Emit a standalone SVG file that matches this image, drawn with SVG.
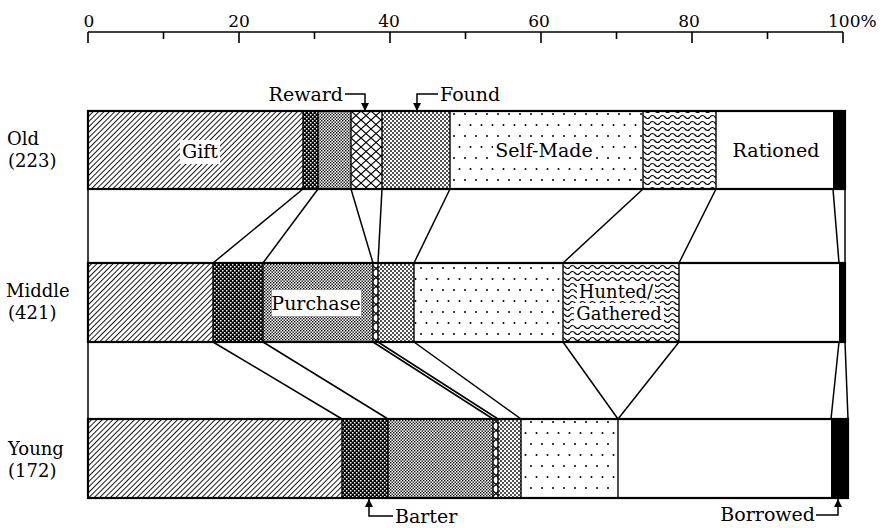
<svg xmlns="http://www.w3.org/2000/svg" width="886" height="528" viewBox="0 0 886 528" font-family="DejaVu Serif, serif">
<style>
.ax{font-size:17px}
.row{font-size:18px}
.lbl{font-size:19px}
.bar{stroke:#000;stroke-width:2.2;fill:none}
.seg{stroke:#000;stroke-width:1.4}
.conn line{stroke:#000;stroke-width:1.5}
.call{fill:none;stroke:#000;stroke-width:1.5}
.tick{stroke:#000;stroke-width:1.6}
</style>
<defs>
<pattern id="pGift" width="3.8" height="3.8" patternUnits="userSpaceOnUse" patternTransform="rotate(45)">
<rect width="3.8" height="3.8" fill="#fff"/><line x1="0.5" y1="0" x2="0.5" y2="3.8" stroke="#000" stroke-width="0.9"/>
</pattern>
<pattern id="pBarter" width="4" height="4" patternUnits="userSpaceOnUse">
<rect width="4" height="4" fill="#000"/><rect x="0" y="0" width="1.5" height="1.5" fill="#fff"/><rect x="2" y="2" width="1.5" height="1.5" fill="#fff"/>
</pattern>
<pattern id="pPurchase" width="3" height="3" patternUnits="userSpaceOnUse">
<rect width="3" height="3" fill="#fff"/><rect x="0" y="0" width="1.4" height="1.4" fill="#000"/><rect x="1.5" y="1.5" width="1.4" height="1.4" fill="#000"/>
</pattern>
<pattern id="pReward" width="10" height="18" patternUnits="userSpaceOnUse" x="351" y="111">
<rect width="10" height="18" fill="#fff"/><path d="M0,0 L10,9 L0,18 M10,0 L0,9 L10,18" fill="none" stroke="#000" stroke-width="1.1"/>
</pattern>
<pattern id="pFound" width="4" height="4" patternUnits="userSpaceOnUse">
<rect width="4" height="4" fill="#fff"/><circle cx="1" cy="1" r="0.9" fill="#000"/><circle cx="3" cy="3" r="0.9" fill="#000"/>
</pattern>
<pattern id="pSelf" width="11" height="22" patternUnits="userSpaceOnUse">
<rect width="11" height="22" fill="#fff"/><circle cx="3" cy="4" r="1" fill="#000"/><circle cx="8.5" cy="15" r="1" fill="#000"/>
</pattern>
<pattern id="pWave" width="10" height="6" patternUnits="userSpaceOnUse">
<rect width="10" height="6" fill="#fff"/><path d="M0,3 Q2.5,0 5,3 T10,3" fill="none" stroke="#000" stroke-width="1.2"/>
</pattern>
<marker id="arr" viewBox="0 0 10 10" refX="10" refY="5" markerWidth="8" markerHeight="8" markerUnits="userSpaceOnUse" orient="auto">
<path d="M0,0 L10,5 L0,10 Z" fill="#000"/>
</marker>
</defs>
<rect width="886" height="528" fill="#fff"/>

<g id="axis">
<line class="tick" x1="88" y1="32" x2="843" y2="32"/>
<line class="tick" x1="88" y1="32" x2="88" y2="43"/>
<line class="tick" x1="163.5" y1="32" x2="163.5" y2="39"/>
<line class="tick" x1="239" y1="32" x2="239" y2="43"/>
<line class="tick" x1="314.5" y1="32" x2="314.5" y2="39"/>
<line class="tick" x1="390" y1="32" x2="390" y2="43"/>
<line class="tick" x1="465.5" y1="32" x2="465.5" y2="39"/>
<line class="tick" x1="541" y1="32" x2="541" y2="43"/>
<line class="tick" x1="616.5" y1="32" x2="616.5" y2="39"/>
<line class="tick" x1="692" y1="32" x2="692" y2="43"/>
<line class="tick" x1="767.5" y1="32" x2="767.5" y2="39"/>
<line class="tick" x1="843" y1="32" x2="843" y2="43"/>
<g class="ax">
<text x="89" y="27" text-anchor="middle">0</text>
<text x="239" y="27" text-anchor="middle">20</text>
<text x="389" y="27" text-anchor="middle">40</text>
<text x="539" y="27" text-anchor="middle">60</text>
<text x="689" y="27" text-anchor="middle">80</text>
<text x="828" y="27">100%</text>
</g>
</g>

<g id="row-labels" class="row">
<text x="7" y="145">Old</text>
<text x="8" y="167">(223)</text>
<text x="6" y="297">Middle</text>
<text x="8" y="319">(421)</text>
<text x="8" y="455">Young</text>
<text x="8" y="477">(172)</text>
</g>

<g id="connectors" class="conn">
<line x1="88" y1="189" x2="88" y2="263"/>
<line x1="303" y1="189" x2="213" y2="263"/>
<line x1="318" y1="189" x2="263" y2="263"/>
<line x1="351" y1="189" x2="373" y2="263"/>
<line x1="382" y1="189" x2="378" y2="263"/>
<line x1="450" y1="189" x2="414" y2="263"/>
<line x1="643" y1="189" x2="563" y2="263"/>
<line x1="716" y1="189" x2="679" y2="263"/>
<line x1="833" y1="189" x2="839" y2="263"/>
<line x1="845" y1="189" x2="845" y2="263"/>
<line x1="88" y1="342" x2="88" y2="419"/>
<line x1="213" y1="342" x2="342" y2="419"/>
<line x1="263" y1="342" x2="388" y2="419"/>
<line x1="373" y1="342" x2="493" y2="419"/>
<line x1="378" y1="342" x2="498" y2="419"/>
<line x1="414" y1="342" x2="521" y2="419"/>
<line x1="563" y1="342" x2="618" y2="419"/>
<line x1="679" y1="342" x2="618" y2="419"/>
<line x1="839" y1="342" x2="831" y2="419"/>
<line x1="845" y1="342" x2="848" y2="419"/>
</g>

<g id="bar-old">
<rect x="88" y="111" width="215" height="78" fill="url(#pGift)"/>
<rect x="303" y="111" width="15" height="78" fill="url(#pBarter)"/>
<rect x="318" y="111" width="33" height="78" fill="url(#pPurchase)"/>
<rect x="351" y="111" width="31" height="78" fill="url(#pReward)"/>
<rect x="382" y="111" width="68" height="78" fill="url(#pFound)"/>
<rect x="450" y="111" width="193" height="78" fill="url(#pSelf)"/>
<rect x="643" y="111" width="73" height="78" fill="url(#pWave)"/>
<rect x="716" y="111" width="117" height="78" fill="#fff"/>
<rect x="833" y="111" width="12" height="78" fill="#000"/>
<g class="seg">
<line x1="303" y1="111" x2="303" y2="189"/><line x1="318" y1="111" x2="318" y2="189"/>
<line x1="351" y1="111" x2="351" y2="189"/><line x1="382" y1="111" x2="382" y2="189"/>
<line x1="450" y1="111" x2="450" y2="189"/><line x1="643" y1="111" x2="643" y2="189"/>
<line x1="716" y1="111" x2="716" y2="189"/>
</g>
<rect class="bar" x="88" y="111" width="757" height="78"/>
<rect x="180" y="140" width="40" height="24" fill="#fff"/>
<rect x="493" y="139" width="102" height="24" fill="#fff"/>
<g class="lbl" text-anchor="middle">
<text x="200" y="158">Gift</text>
<text x="544" y="157">Self-Made</text>
<text x="776" y="157">Rationed</text>
</g>
</g>

<g id="bar-middle">
<rect x="88" y="263" width="125" height="79" fill="url(#pGift)"/>
<rect x="213" y="263" width="50" height="79" fill="url(#pBarter)"/>
<rect x="263" y="263" width="110" height="79" fill="url(#pPurchase)"/>
<rect x="373" y="263" width="5" height="79" fill="url(#pReward)"/>
<rect x="378" y="263" width="36" height="79" fill="url(#pFound)"/>
<rect x="414" y="263" width="149" height="79" fill="url(#pSelf)"/>
<rect x="563" y="263" width="116" height="79" fill="url(#pWave)"/>
<rect x="679" y="263" width="160" height="79" fill="#fff"/>
<rect x="839" y="263" width="6" height="79" fill="#000"/>
<g class="seg">
<line x1="213" y1="263" x2="213" y2="342"/><line x1="263" y1="263" x2="263" y2="342"/>
<line x1="373" y1="263" x2="373" y2="342"/><line x1="378" y1="263" x2="378" y2="342"/>
<line x1="414" y1="263" x2="414" y2="342"/><line x1="563" y1="263" x2="563" y2="342"/>
<line x1="679" y1="263" x2="679" y2="342"/>
</g>
<rect class="bar" x="88" y="263" width="757" height="79"/>
<rect x="272" y="290" width="89" height="26" fill="#fff"/>
<rect x="577" y="282" width="78" height="19" fill="#fff"/>
<rect x="574" y="303" width="90" height="21" fill="#fff"/>
<g text-anchor="middle">
<text class="lbl" x="316" y="310">Purchase</text>
<text x="616" y="298" font-size="18">Hunted/</text>
<text x="619" y="320" font-size="18">Gathered</text>
</g>
</g>

<g id="bar-young">
<rect x="88" y="419" width="254" height="79" fill="url(#pGift)"/>
<rect x="342" y="419" width="46" height="79" fill="url(#pBarter)"/>
<rect x="388" y="419" width="105" height="79" fill="url(#pPurchase)"/>
<rect x="493" y="419" width="5" height="79" fill="url(#pReward)"/>
<rect x="498" y="419" width="23" height="79" fill="url(#pFound)"/>
<rect x="521" y="419" width="97" height="79" fill="url(#pSelf)"/>
<rect x="618" y="419" width="213" height="79" fill="#fff"/>
<rect x="831" y="419" width="17" height="79" fill="#000"/>
<g class="seg">
<line x1="342" y1="419" x2="342" y2="498"/><line x1="388" y1="419" x2="388" y2="498"/>
<line x1="493" y1="419" x2="493" y2="498"/><line x1="498" y1="419" x2="498" y2="498"/>
<line x1="521" y1="419" x2="521" y2="498"/><line x1="618" y1="419" x2="618" y2="498"/>
</g>
<rect class="bar" x="88" y="419" width="760" height="79"/>
</g>

<g class="lbl">
<g id="callout-reward">
<polyline class="call" points="345,94 365,94 365,111" marker-end="url(#arr)"/>
<text x="343" y="101" text-anchor="end">Reward</text>
</g>
<g id="callout-found">
<polyline class="call" points="438,94 417,94 417,111" marker-end="url(#arr)"/>
<text x="440" y="101">Found</text>
</g>
<g id="callout-barter">
<polyline class="call" points="393,516 369,516 369,499" marker-end="url(#arr)"/>
<text x="395" y="523">Barter</text>
</g>
<g id="callout-borrowed">
<polyline class="call" points="816,515 838,515 838,499" marker-end="url(#arr)"/>
<text x="815" y="521" text-anchor="end">Borrowed</text>
</g>
</g>
</svg>
